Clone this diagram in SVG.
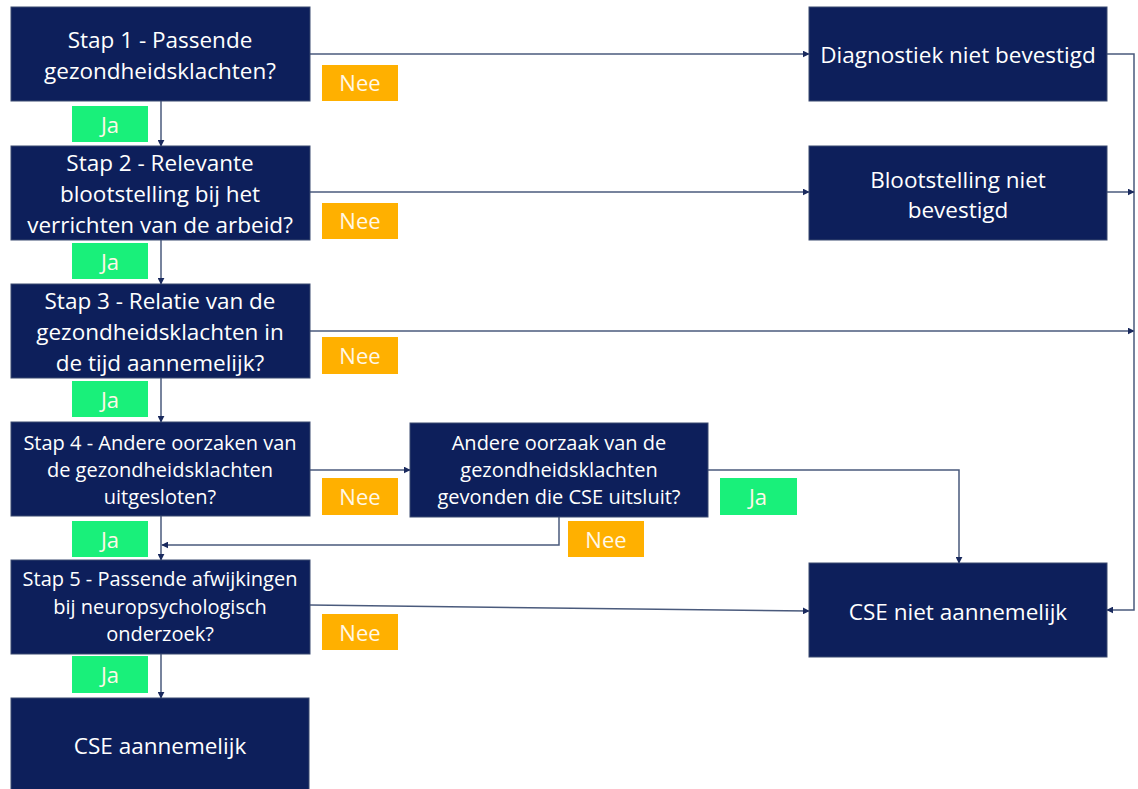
<svg xmlns="http://www.w3.org/2000/svg" width="1138" height="789" viewBox="0 0 1138 789">
<defs>
<style>
.box{fill:#0d1f5b;stroke:#3b4a70;stroke-width:1}
.t{font-family:"Open Sans","Liberation Sans",sans-serif;fill:#ffffff;text-anchor:middle;font-size:22.5px}
.s{font-size:20px}
.nee{fill:#ffb000}
.ja{fill:#19f07a}
.lt{font-family:"Open Sans","Liberation Sans",sans-serif;fill:#fff8e8;text-anchor:middle;font-size:22px}
.c{fill:none;stroke:#4a5a7c;stroke-width:1.5}
</style>
<marker id="a" viewBox="0 0 10 10" refX="9" refY="5" markerWidth="7" markerHeight="7" markerUnits="userSpaceOnUse" orient="auto"><path d="M0,0 L10,5 L0,10 z" fill="#1a2a5e"/></marker>
</defs>
<rect width="1138" height="789" fill="#ffffff"/>
<g id="connectors">
<path class="c" d="M161,101 V146" marker-end="url(#a)"/>
<path class="c" d="M161,240 V284" marker-end="url(#a)"/>
<path class="c" d="M161,378 V422" marker-end="url(#a)"/>
<path class="c" d="M161,516 V560" marker-end="url(#a)"/>
<path class="c" d="M161,654 V698" marker-end="url(#a)"/>
<path class="c" d="M310,54 H809" marker-end="url(#a)"/>
<path class="c" d="M310,192 H809" marker-end="url(#a)"/>
<path class="c" d="M310,331 H1134" marker-end="url(#a)"/>
<path class="c" d="M310,470 H410" marker-end="url(#a)"/>
<path class="c" d="M310,605 L809,611" marker-end="url(#a)"/>
<path class="c" d="M1107,54 H1134 V610 H1107" marker-end="url(#a)"/>
<path class="c" d="M1107,192 H1134" marker-end="url(#a)"/>
<path class="c" d="M708,470 H959 V563" marker-end="url(#a)"/>
<path class="c" d="M559,517 V545 H162" marker-end="url(#a)"/>
</g>
<g id="step1"><rect class="box" x="11" y="7" width="299" height="94"/><text class="t" x="160" y="48">Stap 1 - Passende</text><text class="t" x="160" y="79">gezondheidsklachten?</text></g>
<g id="step2"><rect class="box" x="11" y="146" width="299" height="94"/><text class="t" x="160" y="171">Stap 2 - Relevante</text><text class="t" x="160" y="202">blootstelling bij het</text><text class="t" x="160" y="233">verrichten van de arbeid?</text></g>
<g id="step3"><rect class="box" x="11" y="284" width="299" height="94"/><text class="t" x="160" y="309">Stap 3 - Relatie van de</text><text class="t" x="160" y="340">gezondheidsklachten in</text><text class="t" x="160" y="371">de tijd aannemelijk?</text></g>
<g id="step4"><rect class="box" x="11" y="422" width="299" height="94"/><text class="t s" x="160" y="450">Stap 4 - Andere oorzaken van</text><text class="t s" x="160" y="477">de gezondheidsklachten</text><text class="t s" x="160" y="504">uitgesloten?</text></g>
<g id="step5"><rect class="box" x="11" y="560" width="299" height="94"/><text class="t s" x="160" y="586">Stap 5 - Passende afwijkingen</text><text class="t s" x="160" y="614">bij neuropsychologisch</text><text class="t s" x="160" y="641">onderzoek?</text></g>
<g id="cse-aannemelijk"><rect class="box" x="11" y="698" width="298" height="95"/><text class="t" x="160" y="754">CSE aannemelijk</text></g>
<g id="andere-oorzaak"><rect class="box" x="410" y="423" width="298" height="94"/><text class="t s" x="559" y="450">Andere oorzaak van de</text><text class="t s" x="559" y="477">gezondheidsklachten</text><text class="t s" x="559" y="504">gevonden die CSE uitsluit?</text></g>
<g id="diagnostiek"><rect class="box" x="809" y="7" width="298" height="94"/><text class="t" x="958" y="63">Diagnostiek niet bevestigd</text></g>
<g id="blootstelling"><rect class="box" x="809" y="146" width="298" height="94"/><text class="t" x="958" y="188">Blootstelling niet</text><text class="t" x="958" y="218">bevestigd</text></g>
<g id="cse-niet"><rect class="box" x="809" y="563" width="298" height="94"/><text class="t" x="958" y="620">CSE niet aannemelijk</text></g>
<g id="labels">
<rect class="nee" x="322" y="65" width="76" height="36"/><text class="lt" x="360" y="91">Nee</text>
<rect class="nee" x="322" y="203" width="76" height="36"/><text class="lt" x="360" y="229">Nee</text>
<rect class="nee" x="322" y="337" width="76" height="37"/><text class="lt" x="360" y="364">Nee</text>
<rect class="nee" x="322" y="478" width="76" height="37"/><text class="lt" x="360" y="505">Nee</text>
<rect class="nee" x="322" y="614" width="76" height="36"/><text class="lt" x="360" y="641">Nee</text>
<rect class="nee" x="568" y="521" width="76" height="36"/><text class="lt" x="606" y="548">Nee</text>
<rect class="ja" x="72" y="106" width="76" height="36"/><text class="lt" x="110" y="133">Ja</text>
<rect class="ja" x="72" y="243" width="76" height="36"/><text class="lt" x="110" y="270">Ja</text>
<rect class="ja" x="72" y="381" width="76" height="36"/><text class="lt" x="110" y="408">Ja</text>
<rect class="ja" x="72" y="521" width="76" height="36"/><text class="lt" x="110" y="548">Ja</text>
<rect class="ja" x="72" y="656" width="76" height="37"/><text class="lt" x="110" y="683">Ja</text>
<rect class="ja" x="720" y="478" width="77" height="37"/><text class="lt" x="758" y="505">Ja</text>
</g>
</svg>
